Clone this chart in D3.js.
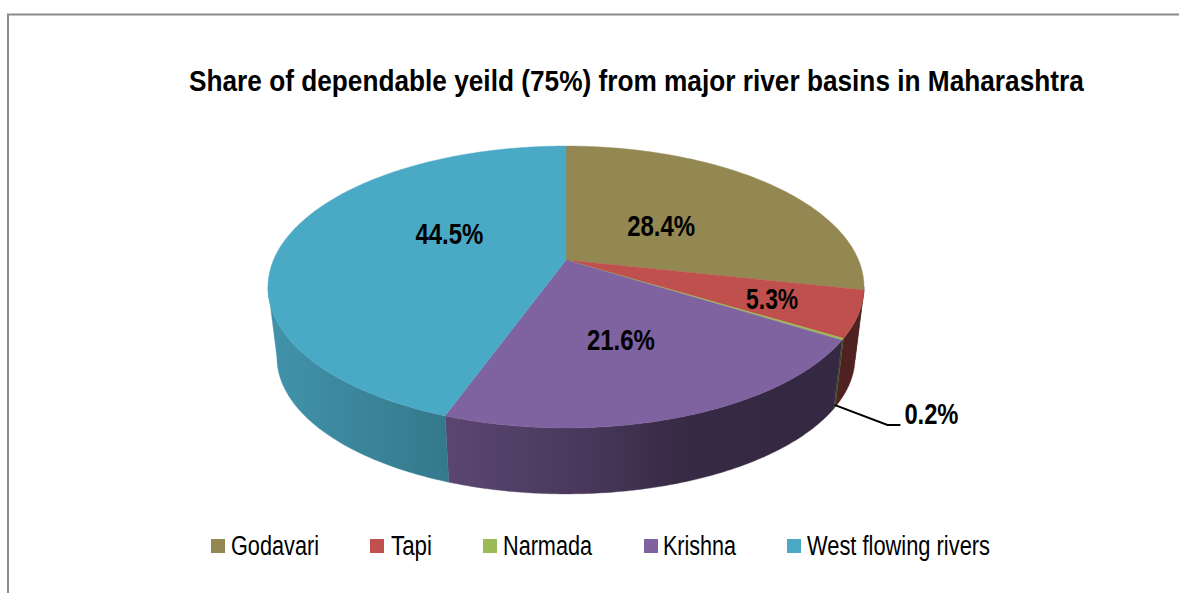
<!DOCTYPE html>
<html>
<head>
<meta charset="utf-8">
<script src="https://cdn.jsdelivr.net/npm/d3@7"></script>
<style>
  html, body { margin: 0; padding: 0; background: #fff; }
  svg { display: block; }
  text { font-family: "Liberation Sans", Arial, sans-serif; fill: #000; }
</style>
</head>
<body>
<svg id="chart" width="1179" height="593"></svg>
<script>
const titleText = 'Share of dependable yeild (75%) from major river basins in Maharashtra';
const categories = ['Godavari', 'Tapi', 'Narmada', 'Krishna', 'West flowing rivers'];
const shares = [28.4, 5.3, 0.2, 21.6, 44.5];
const colors = ['#938851', '#c0504d', '#9bbb59', '#7f62a0', '#4aa9c4'];

// perspective of the pie disc, fitted to the picture
const CX = 566, CY = 260;
const RX = 292.5, RY = 135.8, TILT = 0.1915;
const DEPTH_Y = 71, DEPTH_K = 0.97;

const svg = d3.select('#chart');
const defs = svg.append('defs');
const color = d3.scaleOrdinal(categories, colors);

// frame, only top and left are visible in the crop
svg.append('path')
  .attr('d', 'M8,593V14.5H1179')
  .attr('fill', 'none')
  .attr('stroke', '#8c8c8c')
  .attr('stroke-width', 2);

// original type is condensed, squeeze it horizontally to the measured width
const title = svg.append('text')
  .attr('font-size', 29.5).attr('font-weight', 'bold')
  .text(titleText);
title.attr('transform', `translate(189,91) scale(${895 / title.node().getComputedTextLength()},1)`);

function project(a, r = 1) {
  const u = Math.sin(a) * r, v = -Math.cos(a) * r;
  const w = 1 - TILT * v;
  return [RX * u / w, RY * v / w];
}
const topPt = (a, r) => { const p = project(a, r); return [CX + p[0], CY + p[1]]; };
const lowPt = a => { const p = project(a); return [CX + p[0] * DEPTH_K, CY + DEPTH_Y + p[1] * DEPTH_K]; };

const pie = d3.pie().sort(null).value(d => d.value);
const arcs = pie(categories.map((name, i) => ({ name, value: shares[i] })));
const line = d3.line();
const sweep = (a0, a1) => {
  const n = Math.max(2, Math.ceil(Math.abs(a1 - a0) / 0.01));
  return d3.range(n + 1).map(i => a0 + (a1 - a0) * i / n);
};

// side wall is visible between the two silhouette tangents
const tangent = Math.acos(TILT);
const wallFrom = Math.PI - tangent, wallTo = Math.PI + tangent;
const shade = d3.scaleLinear().domain([270, 450, 600, 690, 860]).range([0.87, 0.71, 0.55, 0.42, 0.41]).clamp(true);
const GX0 = 265, GX1 = 865;

const wallG = svg.append('g');
arcs.forEach((d, i) => {
  const a0 = Math.max(d.startAngle, wallFrom), a1 = Math.min(d.endAngle, wallTo);
  if (a1 <= a0) return;
  const base = d3.rgb(color(d.data.name));
  const grad = defs.append('linearGradient')
    .attr('id', 'wall' + i)
    .attr('gradientUnits', 'userSpaceOnUse')
    .attr('x1', GX0).attr('x2', GX1).attr('y1', 0).attr('y2', 0);
  d3.range(0, 1.01, 0.05).forEach(t => {
    const b = shade(GX0 + (GX1 - GX0) * t);
    grad.append('stop')
      .attr('offset', t)
      .attr('stop-color', d3.rgb(base.r * b, base.g * b, base.b * b).formatHex());
  });
  const pts = sweep(a0, a1);
  const outline = pts.map(a => topPt(a)).concat(pts.slice().reverse().map(lowPt));
  wallG.append('path')
    .attr('d', line(outline) + 'Z')
    .attr('fill', `url(#wall${i})`)
    .attr('stroke', `url(#wall${i})`)
    .attr('stroke-width', 0.4);
});

const topG = svg.append('g');
arcs.forEach(d => {
  const outline = [[CX, CY]].concat(sweep(d.startAngle, d.endAngle).map(a => topPt(a)));
  topG.append('path')
    .attr('d', line(outline) + 'Z')
    .attr('fill', color(d.data.name))
    .attr('stroke', color(d.data.name))
    .attr('stroke-width', 0.4);
});

// labels sit on the disc at a fraction of the radius, Narmada goes outside with a leader
const labelRadius = [0.44, 0.72, null, 0.52, 0.41];
const labelNudge = [1, 0, 0, 5, -18];
const labelWidth = [68, 52, 54, 68, 68];
const labelG = svg.append('g');
const fmt = d => d3.format('.1f')(d) + '%';
arcs.forEach((d, i) => {
  const mid = (d.startAngle + d.endAngle) / 2;
  let pos;
  if (labelRadius[i] === null) {
    const low = lowPt(mid);
    const s = [low[0], low[1] - 3];
    const elbow = [s[0] + 53, s[1] + 20];
    labelG.append('path')
      .attr('d', line([s, elbow, [elbow[0] + 13, elbow[1]]]))
      .attr('fill', 'none')
      .attr('stroke', '#000')
      .attr('stroke-width', 2);
    pos = [elbow[0] + 44, elbow[1] - 12];
  } else {
    pos = topPt(mid, labelRadius[i]);
    pos[1] += labelNudge[i];
  }
  labelG.append('text')
    .attr('x', pos[0]).attr('y', pos[1] + 11)
    .attr('text-anchor', 'middle')
    .attr('font-size', 30).attr('font-weight', 'bold')
    .attr('textLength', labelWidth[i]).attr('lengthAdjust', 'spacingAndGlyphs')
    .text(fmt(d.value));
});

// legend, spaced by item width like the original
const legendSwatchX = [211, 370, 483, 644, 787];
const legendTextW = [88, 41, 89, 73, 183];
const legendTextX = [20, 21, 20, 19, 20];
const legend = svg.append('g').selectAll('g').data(categories).join('g')
  .attr('transform', (d, i) => `translate(${legendSwatchX[i]},0)`);
legend.append('rect')
  .attr('y', 539).attr('width', 14).attr('height', 14)
  .attr('fill', d => color(d));
legend.append('text')
  .attr('x', (d, i) => legendTextX[i]).attr('y', 555)
  .attr('font-size', 27)
  .attr('textLength', (d, i) => legendTextW[i]).attr('lengthAdjust', 'spacingAndGlyphs')
  .text(d => d);
</script>
</body>
</html>
